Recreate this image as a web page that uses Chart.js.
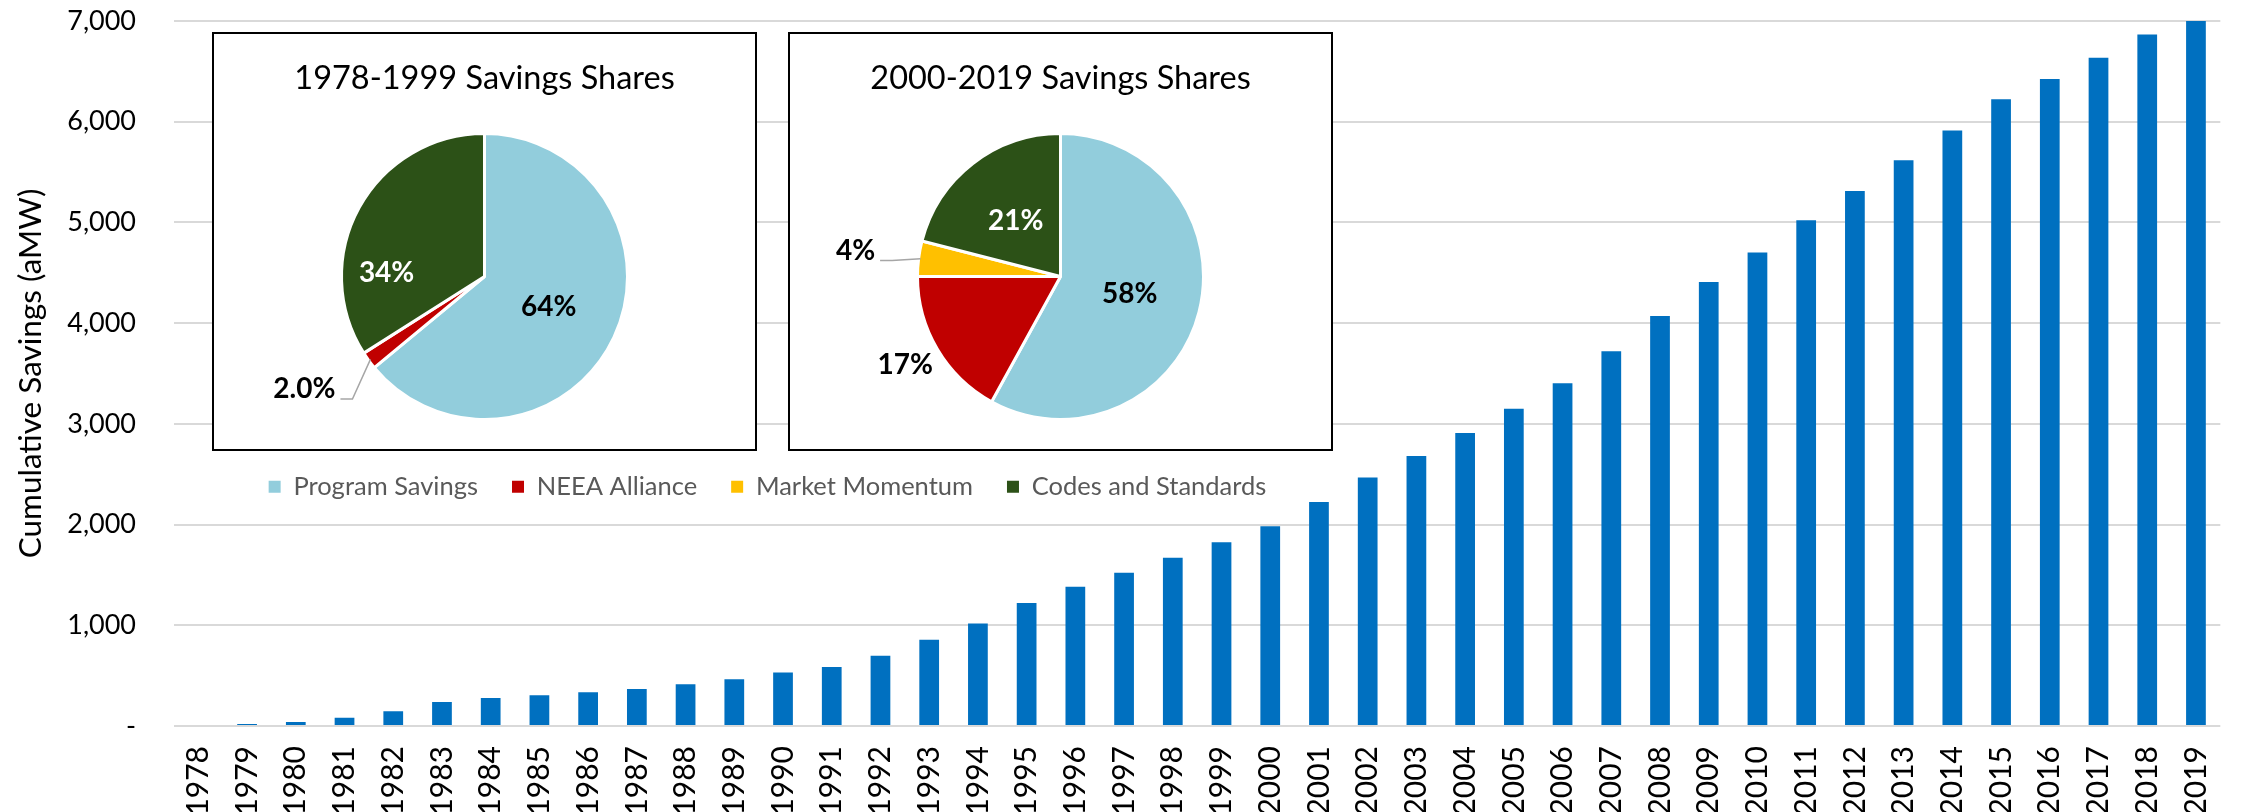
<!DOCTYPE html>
<html>
<head>
<meta charset="utf-8">
<title>Cumulative Savings</title>
<script src="https://cdn.jsdelivr.net/npm/chart.js@4.4.1/dist/chart.umd.min.js"></script>
<style>
  html, body { margin: 0; padding: 0; background: #fff; }
  body { width: 2252px; height: 812px; overflow: hidden; position: relative; }
  #bars { position: absolute; left: 0; top: 0; }
  .box { position: absolute; top: 32px; width: 545px; height: 419px; background: #fff; box-shadow: inset 0 0 0 2px #000; }
  .box canvas { position: absolute; left: 0; top: 0; }
  #box1 { left: 212px; }
  #box2 { left: 788px; }
  #legend { position: absolute; left: 212px; top: 440px; }
</style>
</head>
<body>
<canvas id="bars" width="2252" height="812"></canvas>
<div class="box" id="box1"><canvas id="pie1" width="545" height="419"></canvas></div>
<div class="box" id="box2"><canvas id="pie2" width="545" height="419"></canvas></div>
<canvas id="legend" width="1111" height="200"></canvas>
<script>
// bar data
const years = ['1978', '1979', '1980', '1981', '1982', '1983', '1984', '1985', '1986', '1987',
  '1988', '1989', '1990', '1991', '1992', '1993', '1994', '1995', '1996', '1997',
  '1998', '1999', '2000', '2001', '2002', '2003', '2004', '2005', '2006', '2007',
  '2008', '2009', '2010', '2011', '2012', '2013', '2014', '2015', '2016', '2017',
  '2018', '2019'];
const savings = [0, 20, 40, 83, 146, 239, 279, 305, 335, 368,
  415, 464, 531, 587, 697, 856, 1018, 1221, 1383, 1521,
  1670, 1824, 1984, 2225, 2467, 2682, 2909, 3150, 3402, 3720,
  4070, 4409, 4702, 5021, 5313, 5618, 5912, 6223, 6425, 6634,
  6865, 7000];

// pie data
const shareNames = ['Program Savings', 'NEEA Alliance', 'Market Momentum', 'Codes and Standards'];
const shareColors = ['#92CDDC', '#C00000', '#FFC000', '#2C5117'];
const pie1Shares = [64, 2.0, 0, 34];
const pie1Decimals = [0, 1, 0, 0];
const pie2Shares = [58, 17, 4, 21];
const pie2Decimals = [0, 0, 0, 0];

const FONT = 'Lato';

// percent labels on the slices (with a leader line for the small outside ones)
const sliceLabels = {
  id: 'sliceLabels',
  afterDatasetsDraw(chart, args, opts) {
    const ctx = chart.ctx;
    const meta = chart.getDatasetMeta(0);
    const values = chart.data.datasets[0].data;
    ctx.save();
    ctx.font = 'bold 28px ' + FONT;
    ctx.textAlign = 'center';
    ctx.textBaseline = 'middle';
    meta.data.forEach((arc, i) => {
      if (!values[i]) return;
      const p = arc.getProps(['x', 'y', 'startAngle', 'endAngle', 'outerRadius'], true);
      const mid = (p.startAngle + p.endAngle) / 2;
      const a = mid + opts.shift[i] * Math.PI / 180;
      const d = p.outerRadius * opts.dist[i];
      const lx = p.x + Math.cos(a) * d;
      const ly = p.y + Math.sin(a) * d;
      const text = values[i].toFixed(opts.decimals[i]) + '%';
      if (opts.leader[i]) {
        const w = ctx.measureText(text).width;
        const ex = p.x + Math.cos(mid) * (p.outerRadius - 2);
        const ey = p.y + Math.sin(mid) * (p.outerRadius - 2);
        ctx.strokeStyle = '#A6A6A6';
        ctx.lineWidth = 1.5;
        ctx.beginPath();
        ctx.moveTo(lx + w / 2 + 5, ly + 10);
        ctx.lineTo(lx + w / 2 + 17, ly + 10);
        ctx.lineTo(ex, ey);
        ctx.stroke();
      }
      ctx.fillStyle = opts.colors[i];
      ctx.fillText(text, lx, ly);
    });
    ctx.restore();
  }
};

function pieConfig(title, shares, decimals, labelOpts) {
  return {
    type: 'pie',
    data: {
      labels: shareNames,
      datasets: [{
        data: shares,
        backgroundColor: shareColors,
        borderColor: '#ffffff',
        borderWidth: 3,
        radius: 143
      }]
    },
    options: {
      responsive: false,
      animation: false,
      layout: { padding: { top: 0, bottom: 30 } },
      plugins: {
        legend: { display: false },
        tooltip: { enabled: false },
        title: {
          display: true,
          text: title,
          color: '#000',
          font: { family: FONT, size: 32.5, weight: 'normal' },
          padding: { top: 27, bottom: 34 }
        },
        sliceLabels: Object.assign({ decimals: decimals }, labelOpts)
      }
    },
    plugins: [sliceLabels]
  };
}

// main bar chart
new Chart(document.getElementById('bars'), {
  type: 'bar',
  data: {
    labels: years,
    datasets: [{
      data: savings,
      backgroundColor: '#0070C0',
      categoryPercentage: 1,
      barPercentage: 0.405
    }]
  },
  options: {
    responsive: false,
    animation: false,
    layout: { padding: { top: 21, right: 4, left: 0, bottom: 0 } },
    plugins: {
      legend: { display: false },
      tooltip: { enabled: false }
    },
    scales: {
      x: {
        grid: { display: false, drawTicks: false },
        border: { display: false },
        ticks: {
          autoSkip: false,
          minRotation: 90,
          maxRotation: 90,
          padding: 20,
          color: '#000',
          font: { family: FONT, size: 30 }
        },
        afterFit(scale) { scale.height = 86; }
      },
      y: {
        min: 0,
        max: 7000,
        grid: { color: '#D9D9D9', lineWidth: 2, drawTicks: false },
        border: { display: false },
        ticks: {
          stepSize: 1000,
          padding: 38,
          color: '#000',
          font: { family: FONT, size: 27 },
          callback: function(v) { return v === 0 ? '-' : v.toLocaleString('en-US'); }
        },
        title: {
          display: true,
          text: 'Cumulative Savings (aMW)',
          color: '#000',
          font: { family: FONT, size: 31.5 },
          padding: { top: 12, bottom: 0 }
        },
        afterFit(scale) {
          scale.width = 174;
          // tick padding should not push the plot area down
          scale.paddingTop = 0;
          scale.paddingBottom = 0;
        }
      }
    }
  }
});

// the two pies
new Chart(document.getElementById('pie1'), pieConfig('1978-1999 Savings Shares', pie1Shares, pie1Decimals, {
  dist: [0.497, 1.485, 0, 0.685],
  shift: [0, 4, 0, -27],
  leader: [false, true, false, false],
  colors: ['#000', '#000', '#000', '#fff']
}));

new Chart(document.getElementById('pie2'), pieConfig('2000-2019 Savings Shares', pie2Shares, pie2Decimals, {
  dist: [0.5, 1.248, 1.445, 0.5],
  shift: [0, 1, 0, -1],
  leader: [false, false, true, false],
  colors: ['#000', '#000', '#000', '#fff']
}));

// shared legend under the pies
new Chart(document.getElementById('legend'), {
  type: 'doughnut',
  data: {
    labels: shareNames,
    datasets: [{ data: pie2Shares, backgroundColor: shareColors, borderWidth: 0 }]
  },
  options: {
    responsive: false,
    animation: false,
    circumference: 0,
    plugins: {
      tooltip: { enabled: false },
      legend: {
        position: 'top',
        labels: {
          boxWidth: 12,
          boxHeight: 12,
          padding: 34,
          color: '#595959',
          font: { family: FONT, size: 25.5 }
        }
      }
    }
  }
});
</script>
</body>
</html>
